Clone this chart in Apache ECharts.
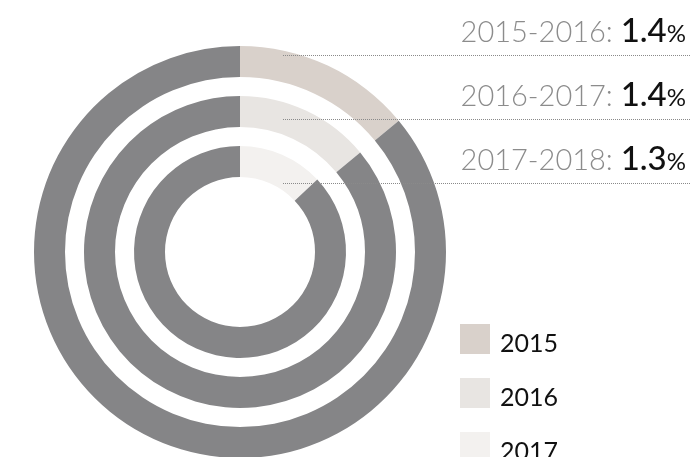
<!DOCTYPE html>
<html>
<head>
<meta charset="utf-8">
<style>html,body{margin:0;padding:0;background:#fff;}#c{width:690px;height:457px;}</style>
<script src="https://cdn.jsdelivr.net/npm/echarts@6/dist/echarts.min.js"></script>
</head>
<body>
<div id="c"></div>
<script>
// Data
const years = ['2015', '2016', '2017'];
const periods = ['2015-2016', '2016-2017', '2017-2018'];
const growth = [1.4, 1.4, 1.3];          // light segment (scaled ring: full ring = 10)
const remainder = [8.6, 8.6, 8.7];       // gray remainder of each ring
const lightColors = ['#d9d1cb', '#e8e5e2', '#f3f1ef'];
const grayColor = '#858587';

const center = [240, 252];
const radii = [[175, 206], [125, 156], [75, 106]];

const chart = echarts.init(document.getElementById('c'));

const series = years.map((y, i) => ({
  type: 'pie',
  name: y,
  center: center,
  radius: radii[i],
  startAngle: 90,
  clockwise: true,
  silent: true,
  label: { show: false },
  labelLine: { show: false },
  emphasis: { disabled: true },
  animation: false,
  data: [
    { name: y, value: growth[i], itemStyle: { color: lightColors[i] } },
    { name: 'rest' + y, value: remainder[i], itemStyle: { color: grayColor } }
  ]
}));

const lineYs = [55, 119, 183];
const graphic = [];
periods.forEach((p, i) => {
  graphic.push({
    type: 'line',
    shape: { x1: 283, y1: lineYs[i] + 0.5, x2: 690, y2: lineYs[i] + 0.5 },
    style: { stroke: '#8a8a8a', lineWidth: 1, lineDash: [1, 1] },
    z: 100
  });
  graphic.push({
    type: 'text',
    right: 4,
    top: lineYs[i] - 40,
    z: 100,
    style: {
      text: '{a|' + p + ': }{b|' + growth[i].toFixed(1) + '}{c|%}',
      rich: {
        a: { fontFamily: 'Lato', fontWeight: 300, fontSize: 29, lineHeight: 38, verticalAlign: 'bottom', fill: '#8c8c8c', color: '#8c8c8c', padding: [0, 0, 1, 0] },
        b: { fontFamily: 'Lato', fontWeight: 500, fontSize: 33, lineHeight: 38, verticalAlign: 'bottom', fill: '#111', color: '#111' },
        c: { fontFamily: 'Lato', fontWeight: 400, fontSize: 24, lineHeight: 38, verticalAlign: 'bottom', fill: '#111', color: '#111', padding: [0, 0, 2, 0] }
      }
    }
  });
});

// Legend (drawn as graphic so it can run past the bottom edge like the reference)
years.forEach((y, i) => {
  graphic.push({
    type: 'rect',
    shape: { x: 460, y: 324 + 54 * i, width: 30, height: 30 },
    style: { fill: lightColors[i] },
    z: 100
  });
  graphic.push({
    type: 'text',
    x: 500,
    y: 344 + 54 * i,
    z: 100,
    style: { text: y, fontFamily: 'Lato', fontSize: 25, fill: '#111', verticalAlign: 'middle', align: 'left' }
  });
});

chart.setOption({
  animation: false,
  series: series,
  graphic: graphic
});
</script>
</body>
</html>
